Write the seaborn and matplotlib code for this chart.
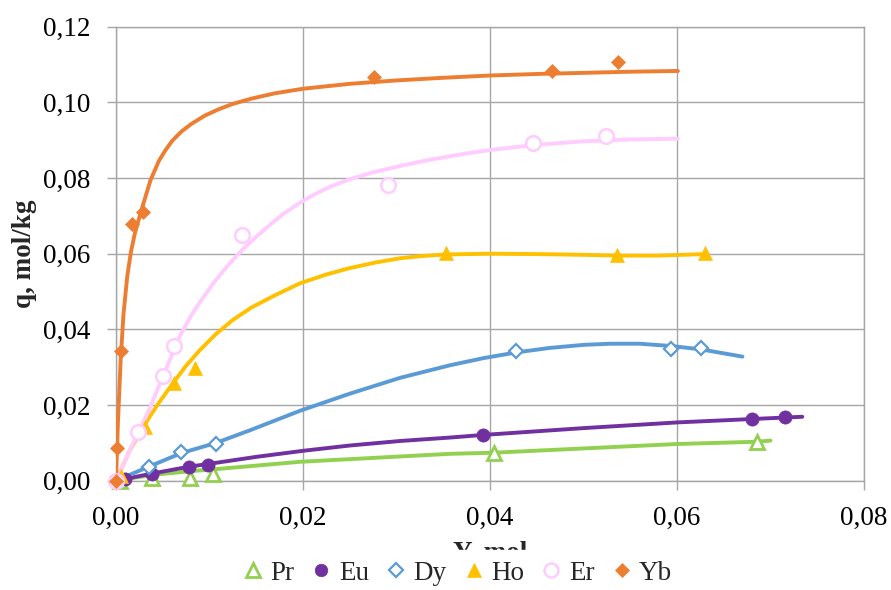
import matplotlib
matplotlib.use("Agg")
import matplotlib.pyplot as plt
from matplotlib.lines import Line2D
from matplotlib.ticker import FuncFormatter
import seaborn as sns
import pandas as pd

# ---------------- data ----------------
series_names = ["Pr", "Eu", "Dy", "Ho", "Er", "Yb"]
colors = {"Pr": "#92D050", "Eu": "#7030A0", "Dy": "#5B9BD5",
          "Ho": "#FFC000", "Er": "#FFCCFF", "Yb": "#ED7D31"}

# measured points
pr_x = [0.0004, 0.0038, 0.0079, 0.0104, 0.0404, 0.0686]
pr_y = [0.0000, 0.0006, 0.0006, 0.0019, 0.0074, 0.0103]
eu_x = [0.0010, 0.0039, 0.0078, 0.0098, 0.0393, 0.0680, 0.0716]
eu_y = [0.0005, 0.0019, 0.0037, 0.0042, 0.0121, 0.0163, 0.0169]
dy_x = [0.0035, 0.0070, 0.0107, 0.0428, 0.0594, 0.0626]
dy_y = [0.0037, 0.0077, 0.0097, 0.0343, 0.0348, 0.0350]
ho_x = [0.0005, 0.0031, 0.0062, 0.0085, 0.0353, 0.0536, 0.0630]
ho_y = [0.0012, 0.0143, 0.0258, 0.0298, 0.0601, 0.0597, 0.0601]
er_x = [0.0000, 0.0024, 0.0050, 0.0062, 0.0135, 0.0291, 0.0446, 0.0524]
er_y = [0.0000, 0.0130, 0.0277, 0.0356, 0.0650, 0.0782, 0.0893, 0.0911]
yb_x = [0.0000, 0.0001, 0.0005, 0.0017, 0.0029, 0.0276, 0.0466, 0.0537]
yb_y = [0.0000, 0.0086, 0.0343, 0.0679, 0.0709, 0.1068, 0.1084, 0.1108]

# fitted curves
pr_cx = [0.0, 0.0038, 0.0079, 0.0104, 0.0197, 0.0357, 0.0404, 0.0600, 0.0686, 0.0700]
pr_cy = [0.0, 0.0015, 0.0025, 0.0030, 0.0050, 0.0071, 0.0074, 0.0097, 0.0103, 0.0106]
eu_cx = [0.0, 0.0039, 0.0078, 0.0098, 0.0150, 0.0200, 0.0250, 0.0304, 0.0357,
         0.0393, 0.0500, 0.0600, 0.0680, 0.0734]
eu_cy = [0.0, 0.0019, 0.0037, 0.0044, 0.0063, 0.0079, 0.0093, 0.0105, 0.0114,
         0.0121, 0.0139, 0.0154, 0.0163, 0.0169]
dy_cx = [0.0, 0.0035, 0.0070, 0.0107, 0.0143, 0.0197, 0.0250, 0.0304, 0.0357,
         0.0393, 0.0428, 0.0464, 0.0500, 0.0528, 0.0560, 0.0594, 0.0626, 0.0670]
dy_cy = [0.0, 0.0037, 0.0073, 0.0100, 0.0133, 0.0185, 0.0230, 0.0272, 0.0305,
         0.0324, 0.0339, 0.0351, 0.0359, 0.0362, 0.0362, 0.0356, 0.0347, 0.0328]
ho_cx = [0.0, 0.0015, 0.0029, 0.0045, 0.0061, 0.0075, 0.0090, 0.0107, 0.0125,
         0.0145, 0.0170, 0.0197, 0.0225, 0.0250, 0.0278, 0.0304, 0.0328, 0.0353,
         0.0400, 0.0450, 0.0500, 0.0536, 0.0580, 0.0630]
ho_cy = [0.0, 0.0081, 0.0142, 0.0203, 0.0258, 0.0304, 0.0346, 0.0388, 0.0425,
         0.0458, 0.0490, 0.0522, 0.0545, 0.0562, 0.0577, 0.0588, 0.0594, 0.0598,
         0.0600, 0.0599, 0.0597, 0.0595, 0.0595, 0.0599]
er_cx = [0.0, 0.0015, 0.0026, 0.0035, 0.0045, 0.0056, 0.0068, 0.0080, 0.0090,
         0.0105, 0.0120, 0.0135, 0.0150, 0.0165, 0.0180, 0.0197, 0.0213, 0.0229,
         0.0250, 0.0275, 0.0304, 0.0335, 0.0370, 0.0400, 0.0450, 0.0500, 0.0550,
         0.0601]
er_cy = [0.0, 0.0081, 0.0138, 0.0185, 0.0245, 0.0310, 0.0381, 0.0435, 0.0473,
         0.0525, 0.0570, 0.0610, 0.0645, 0.0677, 0.0707, 0.0735, 0.0758, 0.0777,
         0.0797, 0.0815, 0.0832, 0.0848, 0.0863, 0.0874, 0.0888, 0.0897, 0.0902,
         0.0904]
yb_cx = [0.0, 0.0002, 0.0005, 0.0008, 0.0012, 0.0016, 0.0020, 0.0026, 0.0029,
         0.0037, 0.0046, 0.0053, 0.0060, 0.0070, 0.0080, 0.0095, 0.0110, 0.0125,
         0.0145, 0.0170, 0.0200, 0.0250, 0.0300, 0.0350, 0.0400, 0.0450, 0.0500,
         0.0550, 0.0601]
yb_cy = [0.0, 0.0150, 0.0320, 0.0440, 0.0540, 0.0605, 0.0652, 0.0705, 0.0730,
         0.0795, 0.0846, 0.0874, 0.0898, 0.0923, 0.0942, 0.0965, 0.0982, 0.0996,
         0.1010, 0.1024, 0.1036, 0.1049, 0.1058, 0.1065, 0.1071, 0.1075, 0.1078,
         0.1081, 0.1083]

x_ticks = [0.00, 0.02, 0.04, 0.06, 0.08]
y_ticks = [0.00, 0.02, 0.04, 0.06, 0.08, 0.10, 0.12]
x_label = "Y, mol"
y_label = "q, mol/kg"

points = {"Pr": (pr_x, pr_y), "Eu": (eu_x, eu_y), "Dy": (dy_x, dy_y),
          "Ho": (ho_x, ho_y), "Er": (er_x, er_y), "Yb": (yb_x, yb_y)}
curves = {"Pr": (pr_cx, pr_cy), "Eu": (eu_cx, eu_cy), "Dy": (dy_cx, dy_cy),
          "Ho": (ho_cx, ho_cy), "Er": (er_cx, er_cy), "Yb": (yb_cx, yb_cy)}

# marker styles
mstyle = {
    "Pr": dict(marker="^", ms=10, mfc="white", mew=2.0),
    "Eu": dict(marker="o", ms=9.5, mfc=None, mew=0.5),
    "Dy": dict(marker="D", ms=7, mfc="white", mew=1.6),
    "Ho": dict(marker="^", ms=10, mfc=None, mew=0.5),
    "Er": dict(marker="o", ms=10.5, mfc="white", mew=1.8),
    "Yb": dict(marker="D", ms=7, mfc=None, mew=0.5),
}

# ---------------- plotting ----------------
sns.set_style("white")
plt.rcParams["font.family"] = ["Liberation Serif", "DejaVu Serif"]
plt.rcParams["axes.unicode_minus"] = False
plt.rcParams["lines.solid_capstyle"] = "round"
plt.rcParams["lines.solid_joinstyle"] = "round"

fig = plt.figure(figsize=(8.91, 5.90), dpi=100)
ax = fig.add_axes([116 / 891, 1 - 480.7 / 590, 748 / 891, 454 / 590])

grid_c = "#A6A6A6"
for i, name in enumerate(series_names):
    cx, cy = curves[name]
    dfc = pd.DataFrame({"x": cx, "y": cy})
    sns.lineplot(data=dfc, x="x", y="y", ax=ax, color=colors[name], lw=2.8,
                 estimator=None, sort=False, zorder=3 + i, legend=False)

for i, name in enumerate(series_names):
    px, py = points[name]
    st = mstyle[name]
    dfp = pd.DataFrame({"x": px, "y": py})
    sns.lineplot(data=dfp, x="x", y="y", ax=ax, linestyle="none",
                 marker=st["marker"], markersize=st["ms"],
                 markerfacecolor=st["mfc"] if st["mfc"] else colors[name],
                 markeredgecolor=colors[name], markeredgewidth=st["mew"],
                 color=colors[name], estimator=None, sort=False,
                 zorder=10 + i, clip_on=False, legend=False)

ax.set_xlim(0, 0.08)
ax.set_ylim(0, 0.12)
ax.set_xticks(x_ticks)
ax.set_yticks(y_ticks)
fmt = FuncFormatter(lambda v, p: f"{v:.2f}".replace(".", ","))
ax.xaxis.set_major_formatter(fmt)
ax.yaxis.set_major_formatter(fmt)
ax.grid(True, color=grid_c, lw=1.0)
ax.set_axisbelow(True)
for sp in ax.spines.values():
    sp.set_color(grid_c)
    sp.set_linewidth(1.0)
ax.tick_params(axis="both", which="major", direction="out", length=6.5,
               width=1.0, color=grid_c, labelsize=19.5, pad=12,
               labelcolor="black")
ax.tick_params(axis="x", bottom=True)
ax.tick_params(axis="y", left=True)

ax.set_xlabel(x_label, fontsize=19.5, fontweight="bold")
ax.xaxis.set_label_coords(0.5, -0.133)
ax.set_ylabel(y_label, fontsize=19.5, fontweight="bold")
ax.yaxis.set_label_coords(-0.106, 0.5)

handles = []
for name in series_names:
    st = mstyle[name]
    handles.append(Line2D([], [], linestyle="none", marker=st["marker"],
                          markersize=st["ms"] * 0.95,
                          markerfacecolor=st["mfc"] if st["mfc"] else colors[name],
                          markeredgecolor=colors[name],
                          markeredgewidth=st["mew"], label=name))
leg = fig.legend(handles=handles, loc="center", ncol=6,
                 bbox_to_anchor=(457 / 891, 1 - 573 / 590),
                 fontsize=19.5, frameon=True, framealpha=1.0,
                 handlelength=0.8, handletextpad=0.25, columnspacing=0.6,
                 borderpad=0.4, fancybox=False)
leg.get_frame().set_facecolor("white")
leg.get_frame().set_edgecolor("white")
leg.set_zorder(20)

fig.savefig("out.png", dpi=100)
